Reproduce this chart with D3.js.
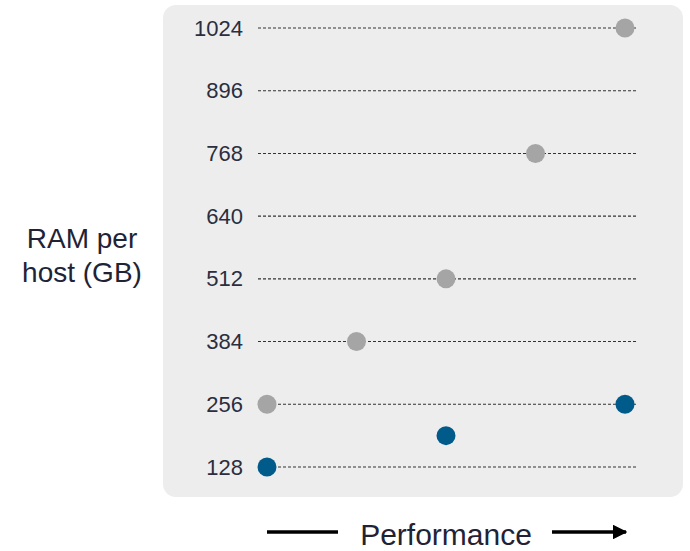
<!DOCTYPE html>
<html>
<head>
<meta charset="utf-8">
<script src="https://cdn.jsdelivr.net/npm/d3@7"></script>
<style>
  body { margin: 0; background: #fff; }
  svg { font-family: "Liberation Sans", Arial, sans-serif; }
</style>
</head>
<body>
<div id="plot"></div>
<script>
// performance levels (no labels shown on the x axis)
const perfLevels = [1, 2, 3, 4, 5];
const ramTicks = [128, 256, 384, 512, 640, 768, 896, 1024];

// series: [performance level, RAM per host]
const grayPerf = [1, 2, 3, 4, 5];
const grayRam = [256, 384, 512, 768, 1024];
const bluePerf = [1, 3, 5];
const blueRam = [128, 192, 256];

const width = 690, height = 551;

const svg = d3.select("#plot")
    .append("svg")
    .attr("width", width)
    .attr("height", height);

// panel background
svg.append("rect")
    .attr("x", 163).attr("y", 5)
    .attr("width", 520).attr("height", 492)
    .attr("rx", 13)
    .attr("fill", "#ededed");

const xScale = d3.scalePoint()
    .domain(perfLevels)
    .range([267, 625]);

const yScale = d3.scaleLinear()
    .domain([128, 1024])
    .range([467, 28]);

// dashed gridlines
svg.append("g")
    .selectAll("line")
    .data(ramTicks)
    .join("line")
    .attr("x1", 258)
    .attr("x2", 636)
    .attr("y1", d => yScale(d))
    .attr("y2", d => yScale(d))
    .attr("stroke", "#333")
    .attr("stroke-width", 1.1)
    .attr("stroke-dasharray", "3,2");

// y axis labels
const yAxis = svg.append("g")
    .attr("transform", "translate(243,0)")
    .call(d3.axisLeft(yScale).tickValues(ramTicks).tickFormat(d3.format("d"))
        .tickSize(0).tickPadding(0));
yAxis.select(".domain").remove();
yAxis.selectAll("text")
    .attr("font-size", 22)
    .attr("font-family", "Liberation Sans, Arial, sans-serif")
    .attr("fill", "#2b2e3f");

// y title
const yTitle = svg.append("text")
    .attr("text-anchor", "middle")
    .attr("font-size", 28)
    .attr("fill", "#1f2335");
yTitle.append("tspan").attr("x", 82).attr("y", 248).text("RAM per");
yTitle.append("tspan").attr("x", 82).attr("y", 282).text("host (GB)");

const grayData = grayPerf.map((p, i) => ({ p, r: grayRam[i] }));
const blueData = bluePerf.map((p, i) => ({ p, r: blueRam[i] }));

svg.append("g")
    .selectAll("circle")
    .data(grayData)
    .join("circle")
    .attr("cx", d => xScale(d.p))
    .attr("cy", d => yScale(d.r))
    .attr("r", 9.5)
    .attr("fill", "#a5a5a5");

svg.append("g")
    .selectAll("circle")
    .data(blueData)
    .join("circle")
    .attr("cx", d => xScale(d.p))
    .attr("cy", d => yScale(d.r))
    .attr("r", 9.5)
    .attr("fill", "#005b8a");

// x title with arrows
svg.append("defs").append("marker")
    .attr("id", "arrow")
    .attr("viewBox", "0 0 10 10")
    .attr("refX", 9).attr("refY", 5)
    .attr("markerWidth", 4.2).attr("markerHeight", 4.2)
    .attr("orient", "auto")
    .append("path")
    .attr("d", "M0,0L10,5L0,10z")
    .attr("fill", "#000");

svg.append("line")
    .attr("x1", 267).attr("x2", 338)
    .attr("y1", 532).attr("y2", 532)
    .attr("stroke", "#000").attr("stroke-width", 3.5);

svg.append("line")
    .attr("x1", 552).attr("x2", 626)
    .attr("y1", 532).attr("y2", 532)
    .attr("stroke", "#000").attr("stroke-width", 3.5)
    .attr("marker-end", "url(#arrow)");

svg.append("text")
    .attr("x", 446).attr("y", 545)
    .attr("text-anchor", "middle")
    .attr("font-size", 30)
    .attr("fill", "#1f2335")
    .text("Performance");
</script>
</body>
</html>
